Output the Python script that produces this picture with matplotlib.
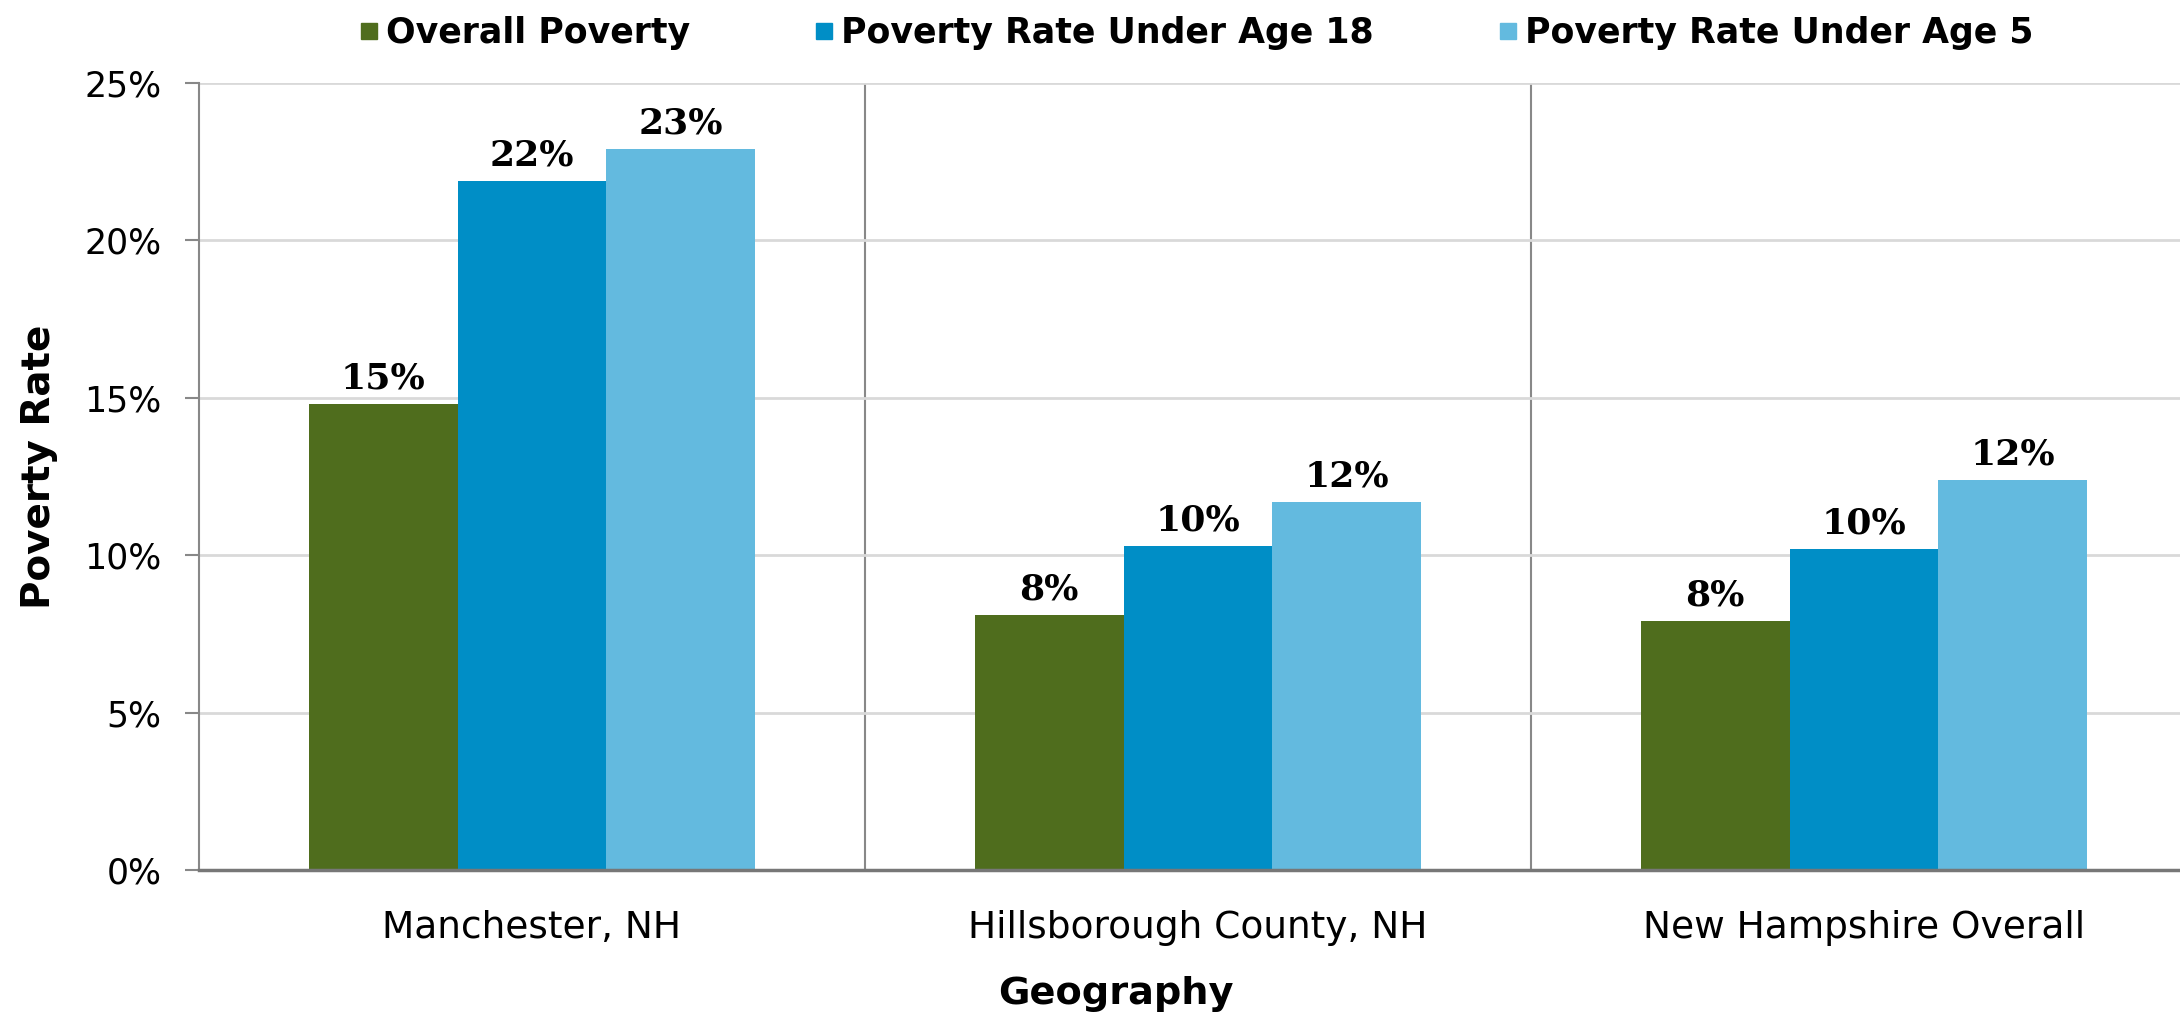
import matplotlib
matplotlib.use("Agg")
import matplotlib.pyplot as plt
import numpy as np
from matplotlib.ticker import FuncFormatter, FixedLocator
from matplotlib.lines import Line2D

categories = ["Manchester, NH", "Hillsborough County, NH", "New Hampshire Overall"]
series_names = ["Overall Poverty", "Poverty Rate Under Age 18", "Poverty Rate Under Age 5"]
overall = [14.8, 8.1, 7.9]
under18 = [21.9, 10.3, 10.2]
under5 = [22.9, 11.7, 12.4]
y_ticks = [0, 5, 10, 15, 20, 25]
colors = ["#4F6D1D", "#008EC6", "#63BADF"]

W, H = 2180, 1019
fig = plt.figure(figsize=(W / 100, H / 100), dpi=100)
ax = fig.add_axes([199 / W, 1 - 870 / H, 1998 / W, (870 - 83) / H])

x = np.arange(len(categories))
bw = 0.2234
series = [overall, under18, under5]
for i, (vals, c) in enumerate(zip(series, colors)):
    xs = x + (i - 1) * bw
    bars = ax.bar(xs, vals, width=bw, color=c, zorder=3, linewidth=0)
    for b, v in zip(bars, vals):
        ax.annotate(f"{v:.0f}%", (b.get_x() + b.get_width() / 2, v),
                    xytext=(0, 6), textcoords="offset points",
                    ha="center", va="bottom", fontsize=26,
                    fontweight="bold", family="DejaVu Serif", zorder=4)

ax.set_xlim(-0.5, len(categories) - 0.5)
ax.set_ylim(0, 25)
ax.yaxis.set_major_locator(FixedLocator(y_ticks))
ax.yaxis.set_major_formatter(FuncFormatter(lambda v, p: f"{v:.0f}%"))
ax.set_xticks(x)
ax.set_xticklabels(categories, fontsize=27)
ax.xaxis.set_minor_locator(FixedLocator([0.5, 1.5]))
ax.tick_params(axis="x", which="both", length=0, pad=29)
ax.tick_params(axis="y", length=10, width=1.5, color="#888888", pad=17, labelsize=25)
ax.grid(axis="y", which="major", color="#D9D9D9", linewidth=2, zorder=0)
ax.grid(axis="x", which="minor", color="#888888", linewidth=1.5, zorder=1)
ax.grid(axis="x", which="major", visible=False)
for s in ["top", "right"]:
    ax.spines[s].set_visible(False)
ax.spines["left"].set_color("#888888")
ax.spines["left"].set_linewidth(1.5)
ax.spines["bottom"].set_color("#777777")
ax.spines["bottom"].set_linewidth(2.5)
ax.spines["bottom"].set_zorder(5)

handles = [Line2D([], [], marker="s", linestyle="none", markersize=11,
                  markerfacecolor=c, markeredgecolor=c) for c in colors]
fig.legend(handles, series_names, loc="center", bbox_to_anchor=(0.549, 1 - 33 / H),
           ncol=3, frameon=False, prop={"weight": "bold", "size": 25},
           handlelength=0.5, handletextpad=0.25, columnspacing=3.6)

fig.text(1116 / W, 1 - 994 / H, "Geography", ha="center", va="center",
         fontsize=27.5, fontweight="bold")
fig.text(39 / W, 1 - 467 / H, "Poverty Rate", ha="center", va="center",
         rotation=90, fontsize=28, fontweight="bold")

fig.savefig("out.png", dpi=100)
